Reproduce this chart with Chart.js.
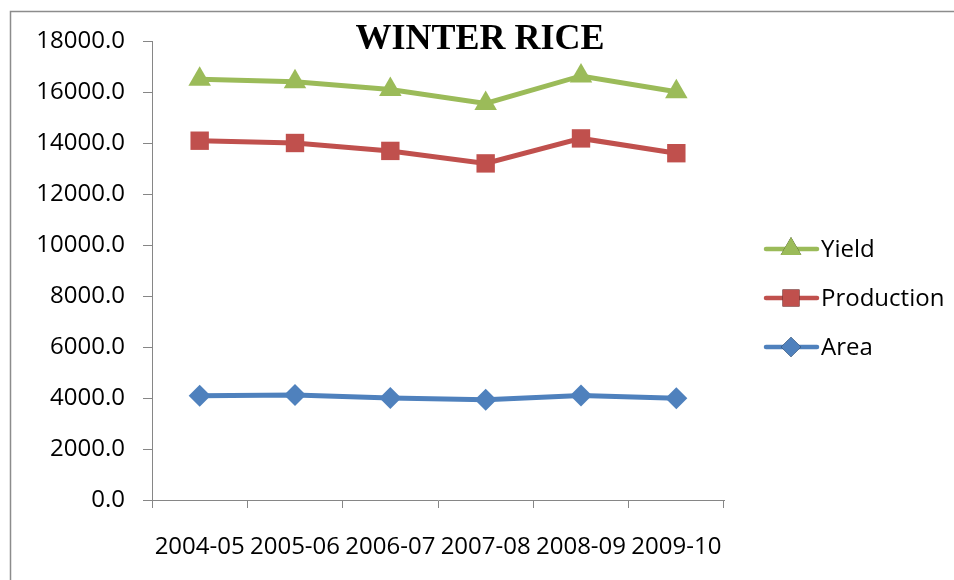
<!DOCTYPE html>
<html>
<head>
<meta charset="utf-8">
<script src="https://cdn.jsdelivr.net/npm/chart.js@4/dist/chart.umd.min.js"></script>
<style>
  html, body { margin: 0; padding: 0; background: #ffffff; }
  #wrap { width: 954px; height: 580px; }
</style>
</head>
<body>
<div id="wrap"><canvas id="chart" width="954" height="580"></canvas></div>
<script>
// Winter rice: area, production and yield by crop year
const seasons = ['2004-05', '2005-06', '2006-07', '2007-08', '2008-09', '2009-10'];
const yieldValues = [16500, 16400, 16100, 15550, 16630, 16010];
const productionValues = [14090, 14000, 13690, 13200, 14180, 13600];
const areaValues = [4090, 4120, 4000, 3930, 4100, 3990];
const yTicks = [0, 2000, 4000, 6000, 8000, 10000, 12000, 14000, 16000, 18000];

const chartTitle = 'WINTER RICE';
const labelFont = '"Open Sans", "Liberation Sans", sans-serif';
const axisGray = '#868686';

// White background plus the thin outer frame
const framePlugin = {
  id: 'frame',
  beforeDraw(chart) {
    const ctx = chart.ctx;
    ctx.save();
    ctx.fillStyle = '#ffffff';
    ctx.fillRect(0, 0, chart.width, chart.height);
    ctx.strokeStyle = '#8c8c8c';
    ctx.lineWidth = 1.5;
    ctx.strokeRect(10.5, 11.5, chart.width + 20, chart.height + 20);
    ctx.restore();
  }
};

// Bold serif heading drawn over the top of the plot
const headingPlugin = {
  id: 'heading',
  afterDraw(chart) {
    const ctx = chart.ctx;
    ctx.save();
    ctx.font = 'bold 36px "Liberation Serif", "Times New Roman", serif';
    ctx.fillStyle = '#000000';
    ctx.textAlign = 'center';
    ctx.textBaseline = 'alphabetic';
    ctx.fillText(chartTitle, 480, 49);
    ctx.restore();
  }
};

// Legend on the right: a line sample with the series marker in its middle
const lineLegendPlugin = {
  id: 'lineLegend',
  afterDraw(chart) {
    const ctx = chart.ctx;
    const rows = [2, 1, 0]; // Yield, Production, Area from top to bottom
    const rowY = [249, 298, 347];
    ctx.save();
    rows.forEach((dsIndex, i) => {
      const ds = chart.data.datasets[dsIndex];
      const y = rowY[i];
      ctx.strokeStyle = ds.borderColor;
      ctx.lineWidth = 4.5;
      ctx.lineCap = 'round';
      ctx.beginPath();
      ctx.moveTo(766, y);
      ctx.lineTo(817, y);
      ctx.stroke();
      Chart.helpers.drawPoint(ctx, {
        pointStyle: ds.pointStyle,
        radius: ds.pointRadius * 0.92,
        rotation: 0,
        borderWidth: 0
      }, 791, y);
      ctx.fillStyle = ds.pointBackgroundColor;
      ctx.fill();
      ctx.fillStyle = '#000000';
      ctx.font = '24px ' + labelFont;
      ctx.textAlign = 'left';
      ctx.textBaseline = 'middle';
      ctx.fillText(ds.label, 821, y + 1);
    });
    ctx.restore();
  }
};

const datasets = [
  {
    label: 'Area',
    data: areaValues,
    borderColor: '#4F81BD',
    backgroundColor: '#4F81BD',
    pointBackgroundColor: '#4F81BD',
    pointBorderColor: '#4F81BD',
    pointStyle: 'rectRot',
    pointRadius: 11
  },
  {
    label: 'Production',
    data: productionValues,
    borderColor: '#C0504D',
    backgroundColor: '#C0504D',
    pointBackgroundColor: '#C0504D',
    pointBorderColor: '#C0504D',
    pointStyle: 'rect',
    pointRadius: 13
  },
  {
    label: 'Yield',
    data: yieldValues,
    borderColor: '#9BBB59',
    backgroundColor: '#9BBB59',
    pointBackgroundColor: '#9BBB59',
    pointBorderColor: '#9BBB59',
    pointStyle: 'triangle',
    pointRadius: 13
  }
];

datasets.forEach(ds => {
  ds.borderWidth = 5;
  ds.pointBorderWidth = 0;
  ds.pointHoverRadius = ds.pointRadius;
  ds.tension = 0;
  ds.fill = false;
});

new Chart(document.getElementById('chart'), {
  type: 'line',
  data: { labels: seasons, datasets: datasets },
  plugins: [framePlugin, headingPlugin, lineLegendPlugin],
  options: {
    responsive: false,
    animation: false,
    events: [],
    layout: { padding: { left: 0, top: 41, right: 230, bottom: 0 } },
    plugins: {
      legend: { display: false },
      title: { display: false },
      tooltip: { enabled: false }
    },
    scales: {
      x: {
        type: 'category',
        offset: true,
        grid: {
          offset: true,
          drawOnChartArea: false,
          drawTicks: true,
          tickLength: 8,
          color: axisGray,
          lineWidth: 1
        },
        border: { display: true, color: axisGray, width: 1 },
        ticks: {
          color: '#000000',
          font: { family: labelFont, size: 24 },
          padding: 25,
          maxRotation: 0,
          autoSkip: false
        },
        afterFit(scale) { scale.height = 80; }
      },
      y: {
        min: 0,
        max: 18000,
        afterBuildTicks(scale) { scale.ticks = yTicks.map(v => ({ value: v })); },
        grid: {
          drawOnChartArea: false,
          drawTicks: true,
          tickLength: 9,
          color: axisGray,
          lineWidth: 1
        },
        border: { display: true, color: axisGray, width: 1 },
        ticks: {
          color: '#000000',
          font: { family: labelFont, size: 24 },
          padding: 18,
          callback: v => Number(v).toFixed(1)
        },
        afterFit(scale) { scale.width = 152; }
      }
    }
  }
});
</script>
</body>
</html>
